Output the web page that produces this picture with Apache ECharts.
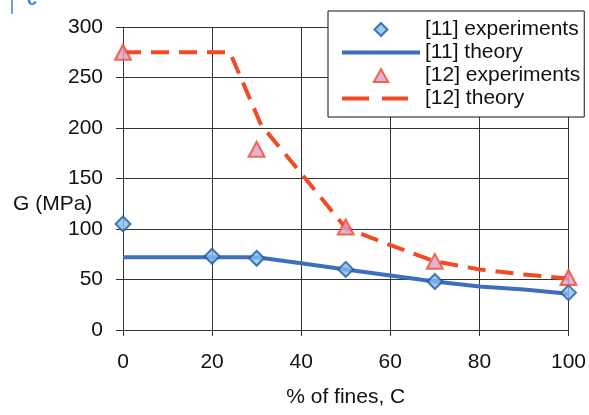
<!DOCTYPE html>
<html>
<head>
<meta charset="utf-8">
<script src="https://cdn.jsdelivr.net/npm/echarts@6/dist/echarts.min.js"></script>
<style>
  html, body { margin: 0; padding: 0; background: #ffffff; }
  #chart { width: 589px; height: 415px; }
</style>
</head>
<body>
<div id="chart"></div>
<script>
// Shear modulus G versus fines content C
const xTicks = [0, 20, 40, 60, 80, 100];
const yTicks = [0, 50, 100, 150, 200, 250, 300];

const exp11X = [0, 20, 30, 50, 70, 100];
const exp11Y = [105, 73, 71, 60, 48, 37];

const theory11X = [0, 30, 40, 50, 60, 70, 80, 90, 100];
const theory11Y = [72, 72, 66, 60, 54, 48, 43, 40, 36];

const exp12X = [0, 30, 50, 70, 100];
const exp12Y = [275, 179, 102, 68, 52];

const theory12X = [0, 24, 31, 40, 50, 60, 70, 80, 90, 100];
const theory12Y = [275, 275, 203, 155, 101, 84, 68, 60, 55, 51];

const pairs = (xs, ys) => xs.map((x, i) => [x, ys[i]]);

const FONT = 'Liberation Sans, Arial, sans-serif';
const FS = 21;

const BLUE_LINE = '#3e6fbf';
const RED_LINE = '#f24a22';

// legend icons: diamond, triangle, solid bar and two dashes
const ICON_DIAMOND = 'path://M0,-1L1,0L0,1L-1,0Z';
const ICON_TRIANGLE = 'path://M0,-1L1,0.8L-1,0.8Z';
const ICON_SOLID = 'path://M0,0H78V4H0Z';
const ICON_DASHED = 'path://M0,0H27V4H0Z M40,0H66V4H40Z M78,2L78,2';

const chart = echarts.init(document.getElementById('chart'), null, { renderer: 'canvas' });

chart.setOption({
  backgroundColor: '#ffffff',
  animation: false,
  textStyle: { fontFamily: FONT },
  grid: { left: 123, right: 20, top: 27, bottom: 85, containLabel: false },
  xAxis: {
    type: 'value',
    min: 0, max: 100, interval: 20,
    name: '% of fines, C',
    nameLocation: 'middle',
    nameGap: 57,
    nameTextStyle: { fontSize: FS, color: '#111', fontFamily: FONT },
    axisLine: { show: true, lineStyle: { color: '#333', width: 1 } },
    axisTick: { show: true, length: 6, lineStyle: { color: '#333' } },
    axisLabel: { fontSize: FS, color: '#111', margin: 22, fontFamily: FONT,
      formatter: v => xTicks.includes(v) ? String(v) : '' },
    splitLine: { show: true, lineStyle: { color: '#333', width: 1 } }
  },
  yAxis: {
    type: 'value',
    min: 0, max: 300, interval: 50,
    axisLine: { show: true, lineStyle: { color: '#333', width: 1 } },
    axisTick: { show: true, length: 7, lineStyle: { color: '#333' } },
    axisLabel: { fontSize: FS, color: '#111', margin: 20, fontFamily: FONT,
      formatter: v => yTicks.includes(v) ? String(v) : '' },
    splitLine: { show: true, lineStyle: { color: '#333', width: 1 } }
  },
  legend: {
    orient: 'vertical',
    left: 328, top: 11,
    padding: [8, 4, 8, 14],
    itemGap: 2,
    itemWidth: 78,
    itemHeight: 13,
    borderColor: '#111',
    borderWidth: 1,
    backgroundColor: '#ffffff',
    textStyle: { fontSize: FS, color: '#111', fontFamily: FONT },
    data: [
      { name: '[11] experiments', icon: ICON_DIAMOND },
      { name: '[11] theory', icon: ICON_SOLID,
        itemStyle: { color: BLUE_LINE, borderWidth: 0 } },
      { name: '[12] experiments', icon: ICON_TRIANGLE },
      { name: '[12] theory', icon: ICON_DASHED,
        itemStyle: { color: RED_LINE, borderWidth: 0 } }
    ]
  },
  graphic: [
    { type: 'text', left: 13, top: 194,
      style: { text: 'G (MPa)', fontSize: FS, fill: '#111', fontFamily: FONT } },
    { type: 'line', shape: { x1: 12, y1: 0, x2: 12, y2: 14 },
      style: { stroke: '#3b82d0', lineWidth: 1.5 } },
    { type: 'text', left: 27, top: -9,
      style: { text: 'c', fontSize: 18, fontWeight: 'bold', fill: '#3b82d0', fontFamily: FONT } }
  ],
  series: [
    {
      name: '[11] theory',
      type: 'line',
      data: pairs(theory11X, theory11Y),
      symbol: 'none',
      symbolKeepAspect: true,
      lineStyle: { color: BLUE_LINE, width: 4 },
      itemStyle: { color: BLUE_LINE },
      z: 2
    },
    {
      name: '[12] theory',
      type: 'line',
      data: pairs(theory12X, theory12Y),
      symbol: 'none',
      symbolKeepAspect: true,
      lineStyle: { color: RED_LINE, width: 4, type: [18, 10] },
      itemStyle: { color: RED_LINE },
      z: 2
    },
    {
      name: '[11] experiments',
      type: 'scatter',
      data: pairs(exp11X, exp11Y),
      symbol: 'diamond',
      symbolSize: [15, 15],
      symbolKeepAspect: true,
      itemStyle: { color: '#86bdf0', borderColor: '#1d5a9e', borderWidth: 2 },
      z: 5
    },
    {
      name: '[12] experiments',
      type: 'scatter',
      data: pairs(exp12X, exp12Y),
      symbol: 'triangle',
      symbolSize: [16, 15],
      symbolKeepAspect: true,
      itemStyle: { color: '#d9a0c4', borderColor: '#f04a30', borderWidth: 2 },
      z: 5
    }
  ]
});
</script>
</body>
</html>
